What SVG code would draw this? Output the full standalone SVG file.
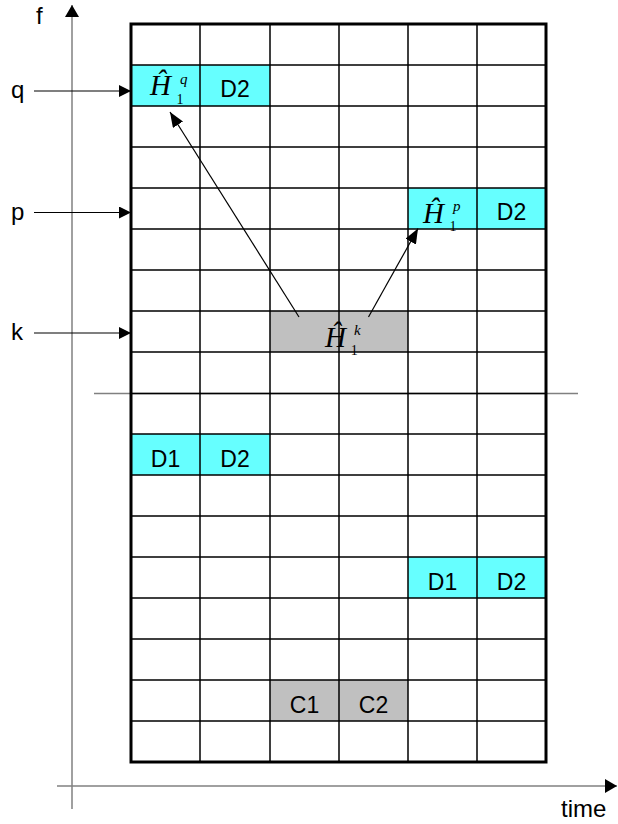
<svg xmlns="http://www.w3.org/2000/svg" width="618" height="824" viewBox="0 0 618 824">
<style>
.lbl{font-family:"Liberation Sans",Arial,sans-serif;font-size:23px;fill:#000}
.ax{font-family:"Liberation Sans",Arial,sans-serif;font-size:24px;fill:#000}
.mh{font-family:"Liberation Serif","Times New Roman",serif;font-style:italic;font-size:29px;fill:#000}
.sup{font-style:italic;font-size:15px;fill:#000}
.sub{font-style:normal;font-size:14px;fill:#000}
.cyan{fill:#66FFFF}
.gray{fill:#C0C0C0}
.grid{stroke:#000;stroke-width:1.5;fill:none}
.axis{stroke:#808080;stroke-width:1.5;fill:none}
.conn{stroke:#000;stroke-width:1.2;fill:none}
</style>
<defs>
<marker id="axh" markerUnits="userSpaceOnUse" markerWidth="12" markerHeight="14" refX="12" refY="7" orient="auto"><path d="M0,0 L12,7 L0,14 z" fill="#000"/></marker>
<marker id="ah" markerUnits="userSpaceOnUse" markerWidth="12" markerHeight="12" refX="12" refY="6" orient="auto"><path d="M0,0 L12,6 L0,12 z" fill="#000"/></marker>
<marker id="ch" markerUnits="userSpaceOnUse" markerWidth="15" markerHeight="12" refX="15" refY="6" orient="auto"><path d="M0,0 L15,6 L0,12 z" fill="#000"/></marker>
</defs>
<rect width="618" height="824" fill="#fff"/>
<g id="axes">
<line class="axis" x1="72" y1="809" x2="72" y2="5" marker-end="url(#axh)"/>
<line class="axis" x1="57" y1="786" x2="617" y2="786" marker-end="url(#axh)"/>
<line class="axis" x1="94" y1="393.5" x2="578" y2="393.5"/>
<text class="ax" x="36" y="24">f</text>
<text class="ax" x="561" y="817">time</text>
<text class="ax" x="11" y="98">q</text>
<text class="ax" x="11" y="220">p</text>
<text class="ax" x="11" y="340">k</text>
</g>
<g id="cell-Hq">
<rect class="cyan" x="131" y="65" width="69" height="41"/>
<text class="mh" x="150" y="95">Ĥ<tspan class="sup" dx="9" dy="-11">q</tspan><tspan class="sub" dx="-11" dy="20">1</tspan></text>
</g>
<g id="cell-D2-q"><rect class="cyan" x="200" y="65" width="70" height="41"/><text class="lbl" x="235" y="97" text-anchor="middle">D2</text></g>
<g id="cell-Hp">
<rect class="cyan" x="408" y="188" width="69" height="41"/>
<text class="mh" x="423" y="223">Ĥ<tspan class="sup" dx="9" dy="-12">p</tspan><tspan class="sub" dx="-11" dy="20">1</tspan></text>
</g>
<g id="cell-D2-p"><rect class="cyan" x="477" y="188" width="69" height="41"/><text class="lbl" x="511.5" y="220" text-anchor="middle">D2</text></g>
<g id="cell-Hk">
<rect class="gray" x="270" y="311" width="138" height="41"/>
<text class="mh" x="325" y="347">Ĥ<tspan class="sup" dx="8" dy="-12">k</tspan><tspan class="sub" dx="-10" dy="20">1</tspan></text>
</g>
<g id="cell-D1-a"><rect class="cyan" x="131" y="434" width="69" height="41"/><text class="lbl" x="165.5" y="467" text-anchor="middle">D1</text></g>
<g id="cell-D2-a"><rect class="cyan" x="200" y="434" width="70" height="41"/><text class="lbl" x="235" y="467" text-anchor="middle">D2</text></g>
<g id="cell-D1-b"><rect class="cyan" x="408" y="557" width="69" height="41"/><text class="lbl" x="442.5" y="590" text-anchor="middle">D1</text></g>
<g id="cell-D2-b"><rect class="cyan" x="477" y="557" width="69" height="41"/><text class="lbl" x="511.5" y="590" text-anchor="middle">D2</text></g>
<g id="cell-C1"><rect class="gray" x="270" y="680" width="69" height="41"/><text class="lbl" x="304.5" y="713" text-anchor="middle">C1</text></g>
<g id="cell-C2"><rect class="gray" x="339" y="680" width="69" height="41"/><text class="lbl" x="373.5" y="713" text-anchor="middle">C2</text></g>
<g id="grid">
<path class="grid" d="M200,24V762M270,24V762M339,24V762M408,24V762M477,24V762"/>
<path class="grid" d="M131,65H546M131,106H546M131,147H546M131,188H546M131,229H546M131,270H546M131,311H546M131,352H546M131,393.5H546M131,434H546M131,475H546M131,516H546M131,557H546M131,598H546M131,639H546M131,680H546M131,721H546"/>
<rect x="131" y="24" width="415" height="738" fill="none" stroke="#000" stroke-width="3"/>
</g>
<g id="connectors">
<line class="conn" x1="34" y1="91" x2="131" y2="91" marker-end="url(#ah)"/>
<line class="conn" x1="34" y1="212.5" x2="131" y2="212.5" marker-end="url(#ah)"/>
<line class="conn" x1="34" y1="333" x2="131" y2="333" marker-end="url(#ah)"/>
<line class="conn" x1="299" y1="317" x2="170" y2="112" marker-end="url(#ch)"/>
<line class="conn" x1="368.5" y1="317" x2="418" y2="228.5" marker-end="url(#ch)"/>
</g>
</svg>
